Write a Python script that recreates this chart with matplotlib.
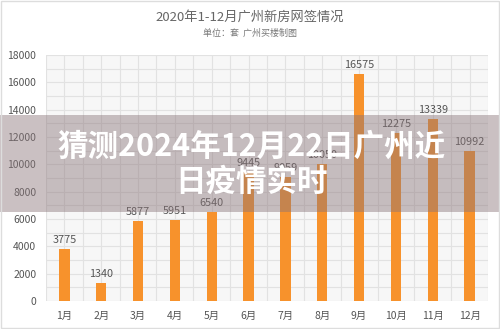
import numpy as np
import matplotlib.pyplot as plt
from matplotlib.patches import Rectangle

plt.rcParams['font.family'] = ['Noto Sans CJK SC', 'DejaVu Sans']

# -------------------------------- data
months = ['1月', '2月', '3月', '4月', '5月', '6月', '7月', '8月', '9月', '10月', '11月', '12月']
values = [3775, 1340, 5877, 5951, 6540, 9445, 9059, 10050, 16575, 12275, 13339, 10992]
yticks = [0, 2000, 4000, 6000, 8000, 10000, 12000, 14000, 16000, 18000]

title = '2020年1-12月广州新房网签情况'
subtitle = '单位：套  广州买楼制图'
overlay = '猜测2024年12月22日广州近\n日疫情实时'

bar_c = '#f7922c'
txt_c = '#555555'

fig = plt.figure(figsize=(5, 3.29), dpi=100)
fig.patch.set_facecolor('white')
ax = fig.add_axes([0.092, 0.085, 0.884, 0.748])

x = np.arange(len(months))
ax.bar(x, values, width=0.28, color=bar_c, zorder=3)
for xi, v in zip(x, values):
    ax.text(xi, v + 300, str(v), ha='center', va='bottom', fontsize=7.8, color=txt_c, zorder=4)

ax.set_xlim(-0.5, len(months) - 0.5)
ax.set_ylim(0, 18000)
ax.set_yticks(yticks)
ax.set_xticks(x)
ax.set_xticklabels(months)
ax.set_yticks(np.arange(1000, 18000, 2000), minor=True)
ax.set_xticks(np.arange(-0.5, len(months), 1.0), minor=True)
ax.tick_params(axis='both', which='both', length=0, labelsize=7.5, labelcolor=txt_c, pad=7)
ax.set_facecolor('#f7f7f7')
ax.grid(True, which='major', color='#e2e2e2', lw=0.8, zorder=0)
ax.grid(True, which='minor', color='#e2e2e2', lw=0.8, zorder=0)
for s in ax.spines.values():
    s.set_visible(False)

fig.text(0.5, 0.948, title, ha='center', va='center', fontsize=9.5, color='#666666')
fig.text(0.5, 0.9, subtitle, ha='center', va='center', fontsize=6.5, color='#777777')

# semi-transparent band with the headline
fig.patches.append(Rectangle((0, 0.356), 1, 0.294, transform=fig.transFigure,
                             facecolor='#8a7579', alpha=0.45, edgecolor='none', zorder=5))
fig.text(0.503, 0.5, overlay, ha='center', va='center', fontsize=22, fontweight='bold',
         color='white', linespacing=1.15, zorder=6)

# outer frame
fig.patches.append(Rectangle((0.002, 0.003), 0.996, 0.994, transform=fig.transFigure,
                             facecolor='none', edgecolor='#dddddd', lw=1, zorder=7))

fig.savefig('out.png', dpi=100)
